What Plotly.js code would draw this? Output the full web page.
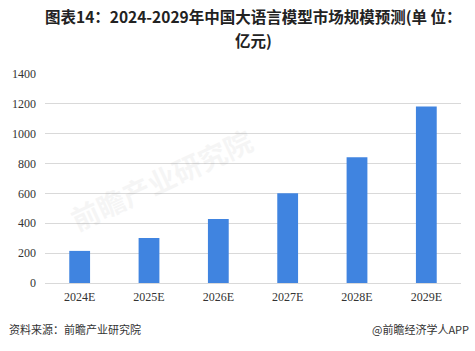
<!DOCTYPE html>
<html><head><meta charset="utf-8">
<script src="https://cdn.plot.ly/plotly-3.0.1.min.js"></script>
<style>html,body{margin:0;padding:0;background:#fff;}#chart{width:475px;height:351px;}</style>
</head><body><div id="chart"></div>
<script>
const categories = ["2024E","2025E","2026E","2027E","2028E","2029E"];
const values = [215, 302, 429, 602, 842, 1182];
const yTicks = [0,200,400,600,800,1000,1200,1400];
const titleLine1 = "图表14：2024-2029年中国大语言模型市场规模预测(单 位：";
const titleLine2 = "亿元)";
const sourceText = "资料来源：前瞻产业研究院";
const creditText = "@前瞻经济学人APP";

const trace = {
  type: "bar", x: categories, y: values,
  marker: {color: "#4084E0"}, hoverinfo: "none"
};
const titleFont = {family: "'Noto Sans CJK SC', sans-serif", size: 15.5, color: "#222", weight: "bold"};
const layout = {
  width: 475, height: 351,
  margin: {l: 45, r: 14, t: 74, b: 68},
  paper_bgcolor: "#fff", plot_bgcolor: "#fff",
  bargap: 0.7, showlegend: false,
  xaxis: {type: "category", showgrid: false, zeroline: false, showline: true, linecolor: "#d9d9d9", linewidth: 1,
    ticks: "", ticklabelstandoff: 3, tickfont: {family: "'Liberation Serif', 'DejaVu Serif', serif", size: 12, color: "#333"}},
  yaxis: {range: [0, 1400], tickvals: yTicks, showgrid: true, gridcolor: "#d9d9d9", gridwidth: 1,
    zeroline: false, showline: false, ticks: "", ticklen: 0, ticklabelstandoff: 8,
    tickfont: {family: "'Liberation Serif', 'DejaVu Serif', serif", size: 12, color: "#333"}},
  annotations: [
    {text: titleLine1, xref: "paper", yref: "paper", x: 0.5, y: 1.278, xanchor: "center", yanchor: "middle",
      showarrow: false, font: titleFont},
    {text: titleLine2, xref: "paper", yref: "paper", x: 0.5, y: 1.163, xanchor: "center", yanchor: "middle",
      showarrow: false, font: titleFont},
    {text: sourceText, xref: "paper", yref: "paper", x: -0.092, y: -0.17, xanchor: "left", yanchor: "top",
      showarrow: false, font: {family: "'Noto Sans CJK SC', sans-serif", size: 11, color: "#333"}},
    {text: creditText, xref: "paper", yref: "paper", x: 1.025, y: -0.17, xanchor: "right", yanchor: "top",
      showarrow: false, font: {family: "'Noto Sans CJK SC', sans-serif", size: 11, color: "#333"}},
    {text: "前瞻产业研究院", xref: "paper", yref: "paper", x: 0.28, y: 0.5, xanchor: "center", yanchor: "middle",
      showarrow: false, textangle: -25, opacity: 0.05, font: {family: "'Noto Sans CJK SC', sans-serif", size: 28, color: "#555", weight: "bold"}}
  ]
};
Plotly.newPlot("chart", [trace], layout, {staticPlot: true, displayModeBar: false});
</script></body></html>
